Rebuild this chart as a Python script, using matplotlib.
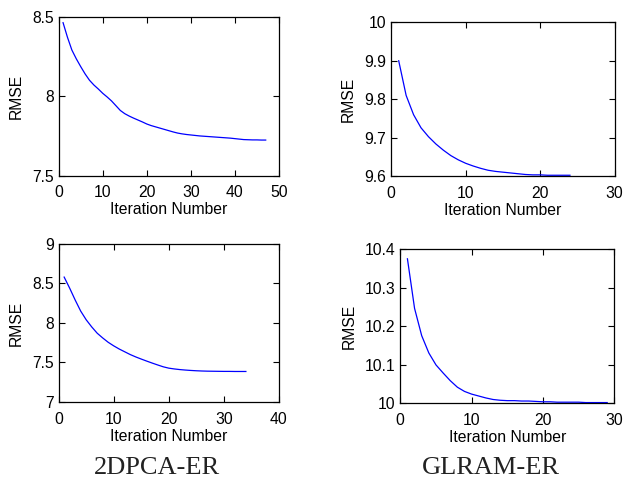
import numpy as np
import matplotlib
matplotlib.use('Agg')
import matplotlib.pyplot as plt

plt.rcParams['font.family'] = ['Liberation Sans', 'DejaVu Sans']

# 2DPCA-ER, top (iterations 1..47)
rmse_2dpca_a = [8.462, 8.37, 8.29, 8.235, 8.186, 8.14, 8.10, 8.07, 8.045, 8.018,
                7.995, 7.97, 7.94, 7.91, 7.89, 7.875, 7.862, 7.85, 7.838, 7.825,
                7.815, 7.807, 7.799, 7.791, 7.783, 7.775, 7.768, 7.763, 7.759, 7.756,
                7.753, 7.75, 7.748, 7.746, 7.744, 7.742, 7.74, 7.738, 7.736, 7.733,
                7.73, 7.727, 7.726, 7.725, 7.725, 7.724, 7.724]
# GLRAM-ER, top (iterations 1..24)
rmse_glram_a = [9.90, 9.81, 9.76, 9.726, 9.703, 9.684, 9.668, 9.654, 9.643, 9.634,
                9.627, 9.621, 9.616, 9.613, 9.611, 9.609, 9.607, 9.605, 9.604, 9.604,
                9.603, 9.603, 9.603, 9.603]
# 2DPCA-ER, bottom (iterations 1..34)
rmse_2dpca_b = [8.58, 8.44, 8.29, 8.15, 8.04, 7.95, 7.87, 7.81, 7.755, 7.71,
                7.67, 7.635, 7.60, 7.57, 7.543, 7.517, 7.492, 7.468, 7.445, 7.428,
                7.418, 7.41, 7.404, 7.399, 7.395, 7.392, 7.39, 7.389, 7.388, 7.387,
                7.387, 7.386, 7.386, 7.386]
# GLRAM-ER, bottom (iterations 1..29)
rmse_glram_b = [10.375, 10.246, 10.175, 10.13, 10.099, 10.078, 10.058, 10.041, 10.03, 10.023,
                10.018, 10.013, 10.009, 10.007, 10.006, 10.006, 10.005, 10.005, 10.004, 10.003,
                10.003, 10.002, 10.002, 10.002, 10.002, 10.001, 10.001, 10.001, 10.001]

panels = [
    (rmse_2dpca_a, [0.094, 0.6355, 0.353, 0.330], (0, 50), (7.5, 8.5), [0, 10, 20, 30, 40, 50], [7.5, 8, 8.5], ['7.5', '8', '8.5']),
    (rmse_glram_a, [0.627, 0.634, 0.358, 0.320], (0, 30), (9.6, 10), [0, 10, 20, 30], [9.6, 9.7, 9.8, 9.9, 10], ['9.6', '9.7', '9.8', '9.9', '10']),
    (rmse_2dpca_b, [0.094, 0.166, 0.353, 0.328], (0, 40), (7, 9), [0, 10, 20, 30, 40], [7, 7.5, 8, 8.5, 9], ['7', '7.5', '8', '8.5', '9']),
    (rmse_glram_b, [0.6415, 0.164, 0.343, 0.319], (0, 30), (10, 10.4), [0, 10, 20, 30], [10, 10.1, 10.2, 10.3, 10.4], ['10', '10.1', '10.2', '10.3', '10.4']),
]

fig = plt.figure(figsize=(6.24, 4.82), dpi=100, facecolor='white')

for vals, pos, xl, yl, xt, yt, ytl in panels:
    ax = fig.add_axes(pos)
    it = np.arange(1, len(vals) + 1)
    ax.plot(it, vals, color='#0000ff', linewidth=0.9)
    ax.set_xlim(*xl)
    ax.set_ylim(*yl)
    ax.set_xticks(xt)
    ax.set_yticks(yt)
    ax.set_yticklabels(ytl)
    ax.tick_params(direction='in', length=4, width=0.8, top=True, right=True,
                   labelsize=11.3, colors='black')
    ax.tick_params(axis='x', pad=7)
    for s in ax.spines.values():
        s.set_linewidth(0.9)
    ax.set_xlabel('Iteration Number', fontsize=11.3, labelpad=1.5)
    ax.set_ylabel('RMSE', fontsize=11.3, labelpad=6)

fig.text(0.252, 0.029, '2DPCA-ER', family='Liberation Serif', fontsize=19,
         ha='center', va='center', color='#222222')
fig.text(0.787, 0.029, 'GLRAM-ER', family='Liberation Serif', fontsize=19,
         ha='center', va='center', color='#222222')

plt.savefig('out.png', dpi=100)
